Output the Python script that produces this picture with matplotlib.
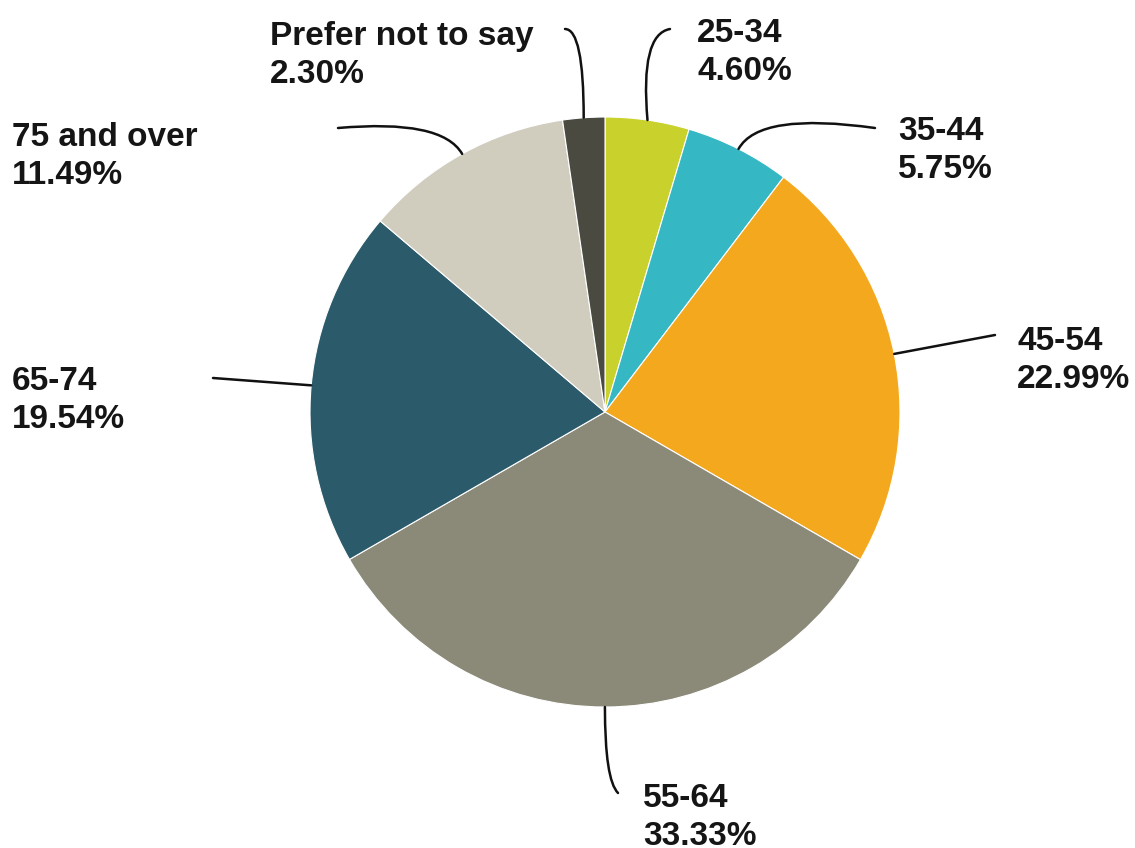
import numpy as np
import matplotlib
matplotlib.use("Agg")
import matplotlib.pyplot as plt

# datos del grafico
etiquetas = ["25-34", "35-44", "45-54", "55-64", "65-74", "75 and over", "Prefer not to say"]
porcentajes = [4.60, 5.75, 22.99, 33.33, 19.54, 11.49, 2.30]
colores = ["#c9d22c", "#35b7c4", "#f4a81e", "#8b8a79", "#2b5b6b", "#d0cdbf", "#4a4a40"]

# ancho y alto en pixeles (coordenadas con y hacia abajo, se invierten luego)
W, H = 1135, 848
centro = (605, 412)
radio = 295

# posicion del texto (x izq, y tope de mayusculas), inicio de linea guia, estilo de conexion
layout = {
    "25-34": ((697, 17), (670, 29), "angle3,angleA=190,angleB=95"),
    "35-44": ((898, 115), (875, 128), "angle3,angleA=172,angleB=61"),
    "45-54": ((1017, 325), (995, 335), "arc3,rad=0"),
    "55-64": ((643, 782), (618, 793), "angle3,angleA=135,angleB=90"),
    "65-74": ((12, 365), (213, 378), "arc3,rad=0"),
    "75 and over": ((12, 121), (338, 128), "angle3,angleA=5,angleB=120"),
    "Prefer not to say": ((270, 20), (565, 29), "angle3,angleA=0,angleB=90"),
}

fig = plt.figure(figsize=(W / 100, H / 100), dpi=100)
ax = fig.add_axes([0, 0, 1, 1])

cx, cy = centro[0], H - centro[1]
wedges, _ = ax.pie(porcentajes, colors=colores, startangle=90, counterclock=False,
                   center=(cx, cy), radius=radio,
                   wedgeprops=dict(edgecolor="white", linewidth=0.8))

ax.set_xlim(0, W)
ax.set_ylim(0, H)
ax.set_aspect("equal")
ax.axis("off")

for w, lab, pct in zip(wedges, etiquetas, porcentajes):
    (tx, ty), (lx, ly), estilo = layout[lab]
    ang = np.deg2rad((w.theta1 + w.theta2) / 2)
    ancla = (cx + radio * np.cos(ang), cy + radio * np.sin(ang))
    ax.annotate("", xy=ancla, xytext=(lx, H - ly),
                arrowprops=dict(arrowstyle="-", color="#111111", lw=1.8,
                                connectionstyle=estilo, shrinkA=0, shrinkB=0))
    ax.text(tx, H - ty - 1, f"{lab}\n{pct:.2f}%", ha="left", va="top",
            fontsize=24, fontweight="bold", family="Liberation Sans",
            color="#151515", linespacing=1.3)

fig.savefig("out.png", dpi=100)
